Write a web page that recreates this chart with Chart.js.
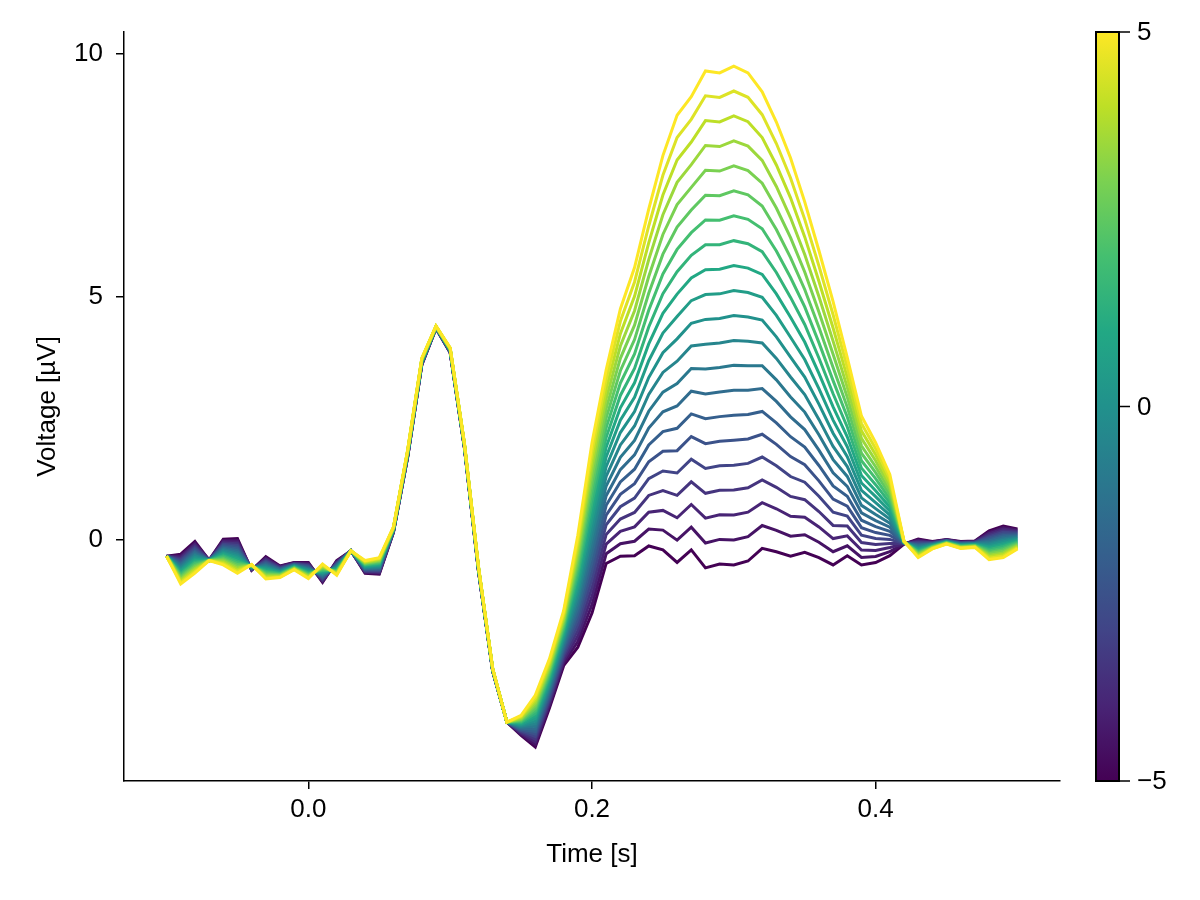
<!DOCTYPE html>
<html>
<head>
<meta charset="utf-8">
<script src="https://cdn.jsdelivr.net/npm/chart.js@4.4.1/dist/chart.umd.min.js"></script>
<style>
  html, body { margin: 0; padding: 0; background: #fff; }
  #wrap { width: 1200px; height: 900px; }
</style>
</head>
<body>
<div id="wrap"><canvas id="erpChart" width="1200" height="900"></canvas></div>
<script>
// time axis (s)
const times = [
  -0.10, -0.09, -0.08, -0.07, -0.06, -0.05, -0.04, -0.03, -0.02, -0.01,
  0.00, 0.01, 0.02, 0.03, 0.04, 0.05, 0.06, 0.07, 0.08, 0.09,
  0.10, 0.11, 0.12, 0.13, 0.14, 0.15, 0.16, 0.17, 0.18, 0.19,
  0.20, 0.21, 0.22, 0.23, 0.24, 0.25, 0.26, 0.27, 0.28, 0.29,
  0.30, 0.31, 0.32, 0.33, 0.34, 0.35, 0.36, 0.37, 0.38, 0.39,
  0.40, 0.41, 0.42, 0.43, 0.44, 0.45, 0.46, 0.47, 0.48, 0.49,
  0.50
];

// purple line (predictor = -5)
const lineAtMinus5 = [
  -0.33, -0.29, -0.03, -0.41, 0.02, 0.03, -0.62, -0.34, -0.53, -0.46,
  -0.46, -0.87, -0.42, -0.22, -0.68, -0.70, 0.16, 1.70, 3.60, 4.35,
  3.85, 1.90, -0.65, -2.70, -3.74, -4.01, -4.25, -3.45, -2.58, -2.20,
  -1.50, -0.48, -0.33, -0.32, -0.12, -0.20, -0.46, -0.20, -0.57, -0.49,
  -0.51, -0.43, -0.17, -0.24, -0.33, -0.25, -0.36, -0.51, -0.32, -0.51,
  -0.46, -0.32, -0.08, 0.02, -0.03, 0.01, -0.03, -0.02, 0.19, 0.29,
  0.23
];

// yellow line (predictor = +5)
const lineAtPlus5 = [
  -0.33, -0.90, -0.68, -0.42, -0.51, -0.68, -0.50, -0.80, -0.77, -0.61,
  -0.79, -0.49, -0.72, -0.22, -0.42, -0.36, 0.27, 1.85, 3.74, 4.40,
  3.95, 2.00, -0.55, -2.64, -3.74, -3.60, -3.19, -2.44, -1.45, 0.10,
  2.00, 3.50, 4.75, 5.60, 6.80, 7.90, 8.73, 9.11, 9.64, 9.60,
  9.74, 9.60, 9.21, 8.59, 7.85, 6.95, 5.95, 4.90, 3.75, 2.55,
  2.00, 1.35, -0.02, -0.36, -0.18, -0.08, -0.17, -0.15, -0.40, -0.36,
  -0.18
];

// predictor levels shown (one line each, colorbar -5..5)
const levels = [-5, -4.5, -4, -3.5, -3, -2.5, -2, -1.5, -1, -0.5, 0,
                0.5, 1, 1.5, 2, 2.5, 3, 3.5, 4, 4.5, 5];

const timeTicks = [0, 0.2, 0.4];
const voltTicks = [0, 5, 10];
const colorbarTicks = [-5, 0, 5];

const viridis = ['#440154', '#482475', '#414487', '#355f8d', '#2a788e', '#21918c',
                 '#22a884', '#44bf70', '#7ad151', '#bddf26', '#fde725'];

const FONT = "'Liberation Sans', Arial, sans-serif";
const FONT_SIZE = 26;

function hexToRgb(h) {
  return [parseInt(h.slice(1, 3), 16), parseInt(h.slice(3, 5), 16), parseInt(h.slice(5, 7), 16)];
}

function viridisAt(f) {
  const p = Math.min(Math.max(f, 0), 1) * (viridis.length - 1);
  const i = Math.min(Math.floor(p), viridis.length - 2);
  const k = p - i;
  const a = hexToRgb(viridis[i]), b = hexToRgb(viridis[i + 1]);
  const c = a.map((v, j) => Math.round(v + (b[j] - v) * k));
  return `rgb(${c[0]}, ${c[1]}, ${c[2]})`;
}

// linear effect of the predictor: each line sits between the two read end lines
const datasets = levels.map(level => {
  const w = (level + 5) / 10;
  return {
    label: String(level),
    data: times.map((t, i) => ({ x: t, y: lineAtMinus5[i] + (lineAtPlus5[i] - lineAtMinus5[i]) * w })),
    borderColor: viridisAt(w),
    borderWidth: 3,
    pointRadius: 0,
    tension: 0,
    fill: false,
    order: -level  // yellow on top
  };
});

// colorbar at the right
const colorbarPlugin = {
  id: 'colorbar',
  afterDraw(chart) {
    const { ctx, chartArea } = chart;
    const x0 = 1096, x1 = 1119;
    const top = chartArea.top, bottom = chartArea.bottom;
    const grad = ctx.createLinearGradient(0, bottom, 0, top);
    viridis.forEach((c, i) => grad.addColorStop(i / (viridis.length - 1), c));
    ctx.save();
    ctx.fillStyle = grad;
    ctx.fillRect(x0, top, x1 - x0, bottom - top);
    ctx.strokeStyle = '#000';
    ctx.lineWidth = 2;
    ctx.strokeRect(x0, top, x1 - x0, bottom - top);

    ctx.font = `${FONT_SIZE}px ${FONT}`;
    ctx.fillStyle = '#000';
    ctx.textAlign = 'left';
    ctx.textBaseline = 'middle';
    colorbarTicks.forEach(v => {
      const y = bottom - (v + 5) / 10 * (bottom - top);
      ctx.lineWidth = 1.5;
      ctx.beginPath();
      ctx.moveTo(x1, y);
      ctx.lineTo(x1 + 11, y);
      ctx.stroke();
      ctx.fillText(v < 0 ? '\u2212' + Math.abs(v) : String(v), x1 + 18, y + 1);
    });
    ctx.restore();
  }
};

const axisCommon = {
  grid: { display: true, drawOnChartArea: false, drawTicks: true, tickLength: 8, color: '#000', lineWidth: 1.5 },
  border: { display: true, color: '#000', width: 1.5 }
};

new Chart(document.getElementById('erpChart'), {
  type: 'line',
  data: { datasets },
  options: {
    responsive: false,
    animation: false,
    layout: { padding: { top: 32, right: 140, bottom: 0, left: 0 } },
    plugins: { legend: { display: false }, tooltip: { enabled: false } },
    scales: {
      x: {
        type: 'linear',
        min: -0.13,
        max: 0.53,
        ...axisCommon,
        afterBuildTicks: scale => { scale.ticks = timeTicks.map(v => ({ value: v })); },
        afterFit: scale => { scale.height = 119; },
        ticks: {
          color: '#000',
          padding: 5,
          font: { family: FONT, size: FONT_SIZE },
          callback: v => Number(v).toFixed(1)
        },
        title: {
          display: true,
          text: 'Time [s]',
          color: '#000',
          font: { family: FONT, size: FONT_SIZE },
          padding: { top: 0, bottom: 30 }
        }
      },
      y: {
        type: 'linear',
        min: -4.95,
        max: 10.44,
        ...axisCommon,
        afterBuildTicks: scale => { scale.ticks = voltTicks.map(v => ({ value: v })); },
        afterFit: scale => { scale.width = 124; },
        ticks: {
          color: '#000',
          padding: 13,
          font: { family: FONT, size: FONT_SIZE },
          callback: v => String(v)
        },
        title: {
          display: true,
          text: 'Voltage [\u00b5V]',
          color: '#000',
          font: { family: FONT, size: FONT_SIZE },
          padding: { top: 32, bottom: 0 }
        }
      }
    }
  },
  plugins: [colorbarPlugin]
});
</script>
</body>
</html>
